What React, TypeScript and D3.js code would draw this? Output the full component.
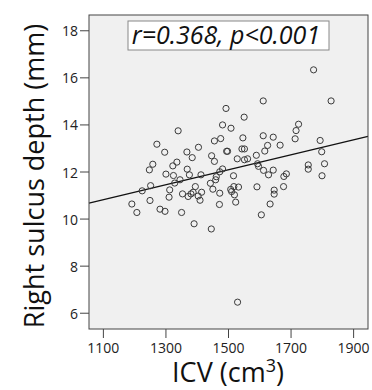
import React from "react";
import * as d3 from "d3";

const icv = [1772, 1611, 1828, 1492, 1550, 1481, 1508, 1724, 1716, 1713, 1611, 1643, 1546, 1475, 1455, 1793, 1625, 1665, 1404, 1543, 1551, 1494, 1497, 1616, 1798, 1339, 1271, 1296, 1367, 1384, 1446, 1589, 1528, 1551, 1561, 1455, 1807, 1755, 1755, 1593, 1596, 1612, 1643, 1628, 1685, 1677, 1799, 1375, 1412, 1481, 1472, 1461, 1459, 1516, 1442, 1394, 1450, 1472, 1507, 1517, 1532, 1510, 1519, 1523, 1471, 1591, 1605, 1646, 1646, 1676, 1633, 1390, 1445, 1529, 1380, 1387, 1371, 1403, 1414, 1409, 1258, 1247, 1335, 1322, 1368, 1300, 1324, 1345, 1328, 1251, 1224, 1312, 1310, 1353, 1249, 1191, 1207, 1281, 1297, 1350];
const depth = [16.34, 15.02, 15.02, 14.70, 14.33, 14.00, 13.86, 14.03, 13.76, 13.41, 13.54, 13.48, 13.45, 13.42, 13.32, 13.34, 13.13, 13.14, 13.05, 12.98, 12.98, 12.88, 12.88, 12.89, 12.86, 13.75, 13.18, 12.84, 12.85, 12.61, 12.69, 12.71, 12.56, 12.52, 12.56, 12.45, 12.35, 12.30, 12.12, 12.35, 12.24, 12.07, 12.08, 11.88, 11.92, 11.81, 11.84, 11.88, 11.88, 12.13, 12.01, 11.80, 11.67, 11.84, 11.52, 11.38, 11.27, 11.10, 11.26, 11.38, 11.36, 11.17, 11.03, 10.72, 10.62, 11.37, 10.18, 11.23, 11.06, 11.38, 10.64, 9.80, 9.58, 6.47, 11.07, 11.14, 10.96, 10.98, 11.14, 10.80, 12.33, 12.09, 12.42, 12.26, 12.12, 11.91, 11.85, 11.67, 11.53, 11.42, 11.20, 11.24, 10.93, 11.07, 10.79, 10.64, 10.28, 10.42, 10.33, 10.28];

const xTicks = [1100, 1300, 1500, 1700, 1900];
const yTicks = [6, 8, 10, 12, 14, 16, 18];
const xDomain = [1054, 1946];
const yDomain = [5.33, 18.67];
const fitIntercept = 7.336;
const fitSlope = 0.003173;
const statLabel = "r=0.368, p<0.001";
const xTitle = "ICV (cm";
const xTitleSup = "3";
const yTitle = "Right sulcus depth (mm)";

const W = 372;
const H = 390;
const L = 89, R = 368, T = 15, B = 329;
const axisColor = "#444";
const font = "'Open Sans', 'Liberation Sans', sans-serif";

export default function App() {
  const x = d3.scaleLinear().domain(xDomain).range([L, R]);
  const y = d3.scaleLinear().domain(yDomain).range([B, T]);
  const line = d3
    .line<number>()
    .x((d) => x(d))
    .y((d) => y(fitIntercept + fitSlope * d));
  const pts = icv.map((v, i) => ({ x: v, y: depth[i] }));

  return (
    <svg
      width={W}
      height={H}
      style={{ position: "absolute", left: 0, top: 0, display: "block", background: "#fff" }}
    >
      <rect x={L} y={T} width={R - L} height={B - T} fill="#f0f0f0" />
      <path d={line(xDomain) || ""} stroke="#111" strokeWidth={1.3} fill="none" />
      {pts.map((p, i) => (
        <circle
          key={i}
          cx={x(p.x)}
          cy={y(p.y)}
          r={3.1}
          fill="none"
          stroke="#3a3a3a"
          strokeWidth={1}
        />
      ))}
      <rect x={L} y={T} width={R - L} height={B - T} fill="none" stroke={axisColor} strokeWidth={1} />
      {yTicks.map((t) => (
        <g key={"y" + t}>
          <line x1={L - 9} x2={L} y1={y(t)} y2={y(t)} stroke={axisColor} strokeWidth={1} />
          <text
            x={L - 11}
            y={y(t)}
            textAnchor="end"
            dominantBaseline="central"
            fontFamily={font}
            fontSize={14}
            fill="#222"
          >
            {t}
          </text>
        </g>
      ))}
      {xTicks.map((t) => (
        <g key={"x" + t}>
          <line x1={x(t)} x2={x(t)} y1={B} y2={B + 9} stroke={axisColor} strokeWidth={1} />
          <text
            x={x(t)}
            y={353}
            textAnchor="middle"
            fontFamily={font}
            fontSize={14}
            fill="#222"
          >
            {t}
          </text>
        </g>
      ))}
      <rect x={128} y={21} width={201} height={29} fill="#fff" stroke="#888" strokeWidth={1} />
      <text
        x={226}
        y={44}
        textAnchor="middle"
        fontFamily={font}
        fontStyle="italic"
        fontSize={25}
        fill="#111"
      >
        {statLabel}
      </text>
      <text
        x={228}
        y={382}
        textAnchor="middle"
        fontFamily={font}
        fontSize={27}
        fill="#111"
      >
        {xTitle}
        <tspan fontSize={18} dy={-10}>{xTitleSup}</tspan>
        <tspan dy={10}>)</tspan>
      </text>
      <text
        transform={`translate(44,${(T + B) / 2 + 4}) rotate(-90)`}
        textAnchor="middle"
        fontFamily={font}
        fontSize={27}
        fill="#111"
      >
        {yTitle}
      </text>
    </svg>
  );
}
